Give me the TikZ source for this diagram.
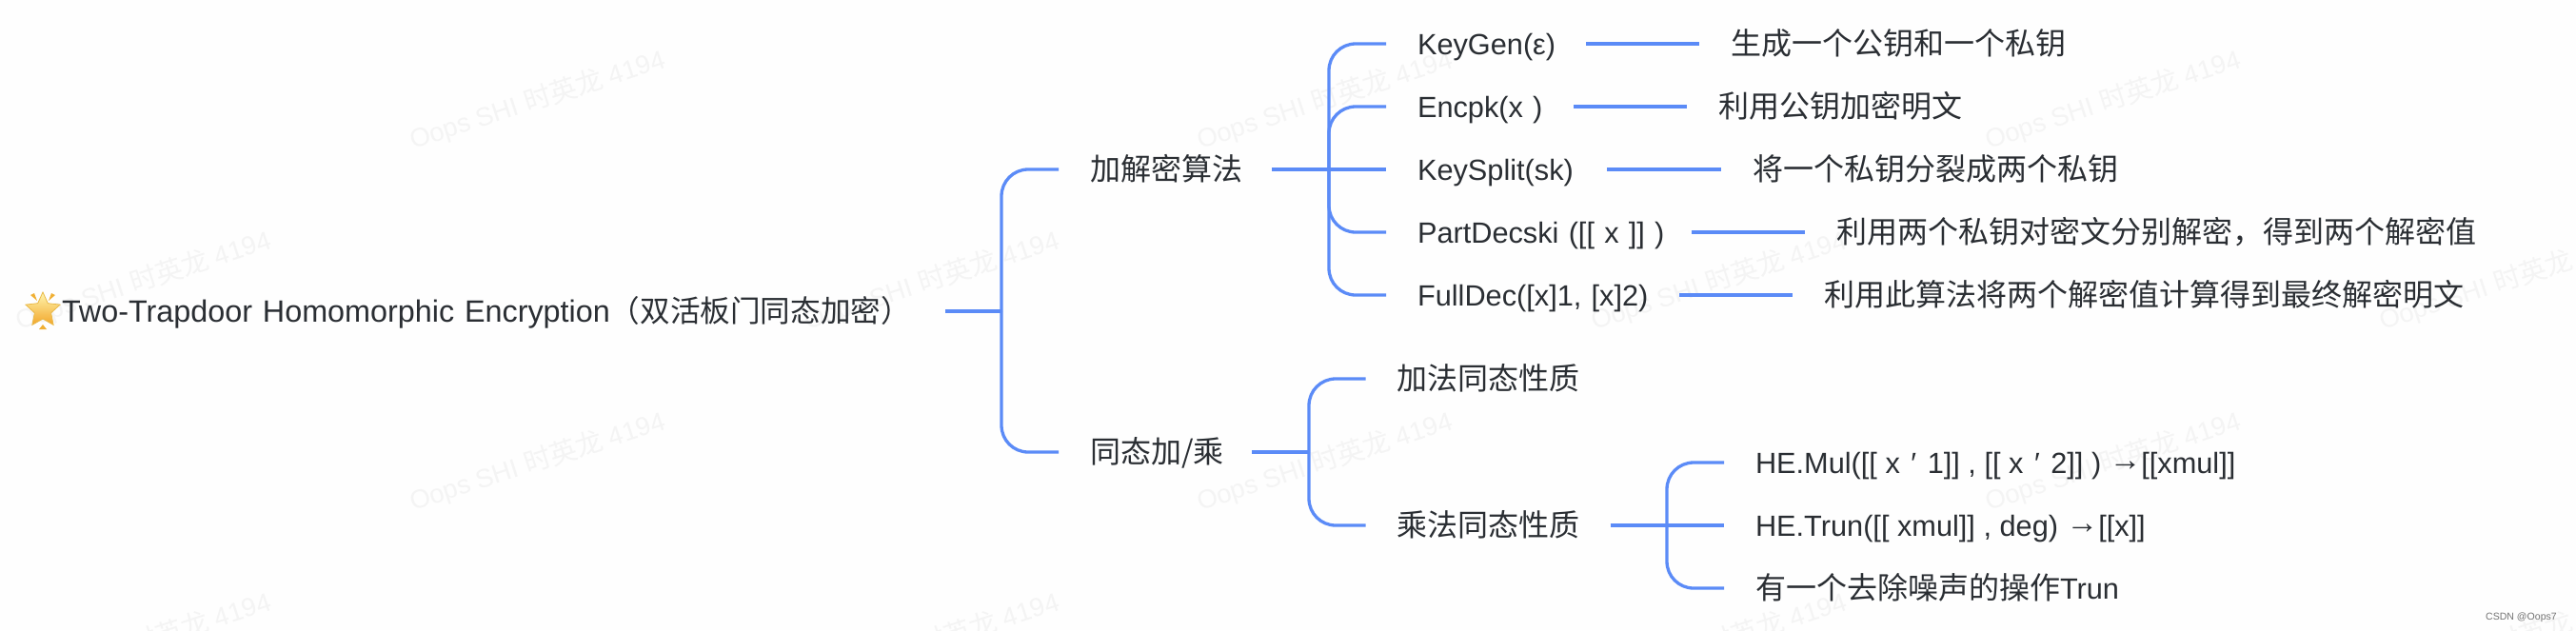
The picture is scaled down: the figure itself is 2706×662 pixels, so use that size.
\documentclass[tikz,border=0pt]{standalone}
\usepackage{fontspec}
\usetikzlibrary{shapes.geometric}
\setmainfont[Scale=0.96]{Liberation Sans}
\newfontfamily\zhfont{Noto Sans CJK SC}
\newcommand\zh[1]{{\zhfont #1}}
\newcommand\arw{\raisebox{3pt}{\fontsize{35}{36}\selectfont →}}
\definecolor{wire}{HTML}{5B8BF7}
\definecolor{ink}{HTML}{2A2E33}
\definecolor{wm}{HTML}{F4F4F4}
\definecolor{paper}{HTML}{FEFEFE}
\definecolor{starhi}{HTML}{FFF6B0}
\definecolor{starlo}{HTML}{F2A62A}
\definecolor{starrim}{HTML}{E9B949}
\definecolor{sparkc}{HTML}{F0B035}
\tikzset{
  lab/.style={anchor=west,inner xsep=33pt,inner ysep=0pt,outer sep=0pt,text height=27pt,text depth=4pt,
    text width=#1 pt,align=left,text=ink,font=\fontsize{32}{36}\selectfont},
  leaf/.style={anchor=west,inner xsep=33pt,inner ysep=0pt,outer sep=0pt,text height=27pt,text depth=4pt,
    text=ink,font=\fontsize{32}{36}\selectfont},
  wmark/.style={anchor=base west,inner sep=0pt,rotate=18,text=wm,font=\fontsize{28.5}{32}\selectfont},
  stub/.style={draw=wire,line width=4.5pt},
  twig/.style={draw=wire,line width=3.3pt,rounded corners=28pt},
  link/.style={draw=wire,line width=3.3pt},
  spark/.style={fill=sparkc,draw=none}
}
\begin{document}
\begin{tikzpicture}[x=1pt,y=-1pt]
\useasboundingbox (0,0) rectangle (2706,662);
\fill[paper] (0,0) rectangle (2706,662);
% watermark
\node[wmark] (w1) at (434,157) {Oops SHI \zh{时英龙} 4194};
\node[wmark] (w2) at (1261,157) {Oops SHI \zh{时英龙} 4194};
\node[wmark] (w3) at (2089,157) {Oops SHI \zh{时英龙} 4194};
\node[wmark] (w4) at (20,347) {Oops SHI \zh{时英龙} 4194};
\node[wmark] (w5) at (848,347) {Oops SHI \zh{时英龙} 4194};
\node[wmark] (w6) at (1675,347) {Oops SHI \zh{时英龙} 4194};
\node[wmark] (w7) at (2503,347) {Oops SHI \zh{时英龙} 4194};
\node[wmark] (w8) at (434,537) {Oops SHI \zh{时英龙} 4194};
\node[wmark] (w9) at (1261,537) {Oops SHI \zh{时英龙} 4194};
\node[wmark] (w10) at (2089,537) {Oops SHI \zh{时英龙} 4194};
\node[wmark] (w11) at (20,727) {Oops SHI \zh{时英龙} 4194};
\node[wmark] (w12) at (848,727) {Oops SHI \zh{时英龙} 4194};
\node[wmark] (w13) at (1675,727) {Oops SHI \zh{时英龙} 4194};
\node[wmark] (w14) at (2503,727) {Oops SHI \zh{时英龙} 4194};
% star emoji
\node[star,star points=5,star point ratio=2.1,minimum size=38pt,inner sep=0pt,
  top color=starhi,bottom color=starlo,draw=starrim,line width=.8pt] (glow) at (45,326) {};
\fill[spark] (32,310) -- (36,308) -- (39,316) -- cycle;
\fill[spark] (58,310) -- (54,308) -- (51,316) -- cycle;
\fill[spark] (45,341) -- (49,346) -- (41,346) -- cycle;
% root
\node[anchor=west,inner sep=0pt,outer sep=0pt,text height=27pt,text depth=4pt,text width=928pt,align=left,
  text=ink,font=\fontsize{33.7}{36}\selectfont] (root) at (65,327)
  {\mbox{Two-Trapdoor Homomorphic Encryption{\fontsize{31.6}{36}\selectfont\zh{（双活板门同态加密）}}}};
% level 1
\node[lab=158] (alg) at (1112,178) {\mbox{\zh{加解密算法}}};
\node[lab=137] (hom) at (1112,475) {\mbox{\zh{同态加/乘}}};
% algorithms
\node[lab=144] (kg) at (1456,46) {\mbox{KeyGen(ε)}};
\node[lab=131] (en) at (1456,112) {\mbox{Encpk(x )}};
\node[lab=166] (ks) at (1456,178) {\mbox{KeySplit(sk)}};
\node[lab=255] (pd) at (1456,244) {\mbox{PartDecski ([[ x ]] )}};
\node[lab=242] (fd) at (1456,310) {\mbox{FullDec([x]1, [x]2)}};
% descriptions
\node[leaf] (kgd) at (1785,46) {\zh{生成一个公钥和一个私钥}};
\node[leaf] (end) at (1772,112) {\zh{利用公钥加密明文}};
\node[leaf] (ksd) at (1808,178) {\zh{将一个私钥分裂成两个私钥}};
\node[leaf] (pdd) at (1896,244) {\zh{利用两个私钥对密文分别解密，得到两个解密值}};
\node[leaf] (fdd) at (1883,310) {\zh{利用此算法将两个解密值计算得到最终解密明文}};
% homomorphic
\node[lab=189] (add) at (1434.5,398) {\mbox{\zh{加法同态性质}}};
\node[lab=191] (mul) at (1434.5,552) {\mbox{\zh{乘法同态性质}}};
\node[leaf] (hm) at (1811,486) {HE.Mul([[ x\hspace{3pt} ′\hspace{3pt} 1]] , [[ x\hspace{3pt} ′\hspace{3pt} 2]] ) \arw[[xmul]]};
\node[leaf] (ht) at (1811,552) {HE.Trun([[ xmul]] , deg) \arw[[x]]};
\node[leaf] (tr) at (1811,618) {\zh{有一个去除噪声的操作}Trun};
\node[anchor=base east,inner sep=0pt,text=black!55,font=\fontsize{11}{12}\selectfont] (csdn) at (2686,651) {CSDN @Oops7};
% hubs
\coordinate (h0) at (1052,327);
\coordinate (h1) at (1396,178);
\coordinate (h2) at (1375,475);
\coordinate (h3) at (1751,552);
% connectors
\draw[stub] (root.east) -- (h0);
\draw[twig] (h0) |- (alg.west);
\draw[twig] (h0) |- (hom.west);
\draw[stub] (alg.east) -- (h1);
\draw[twig] (h1) |- (kg.west);
\draw[twig] (h1) |- (en.west);
\draw[link] (h1) -- (ks.west);
\draw[twig] (h1) |- (pd.west);
\draw[twig] (h1) |- (fd.west);
\draw[link] (kg.east) -- (kgd.west);
\draw[link] (en.east) -- (end.west);
\draw[link] (ks.east) -- (ksd.west);
\draw[link] (pd.east) -- (pdd.west);
\draw[link] (fd.east) -- (fdd.west);
\draw[stub] (hom.east) -- (h2);
\draw[twig] (h2) |- (add.west);
\draw[twig] (h2) |- (mul.west);
\draw[stub] (mul.east) -- (h3);
\draw[twig] (h3) |- (hm.west);
\draw[link] (h3) -- (ht.west);
\draw[twig] (h3) |- (tr.west);
\end{tikzpicture}
\end{document}
